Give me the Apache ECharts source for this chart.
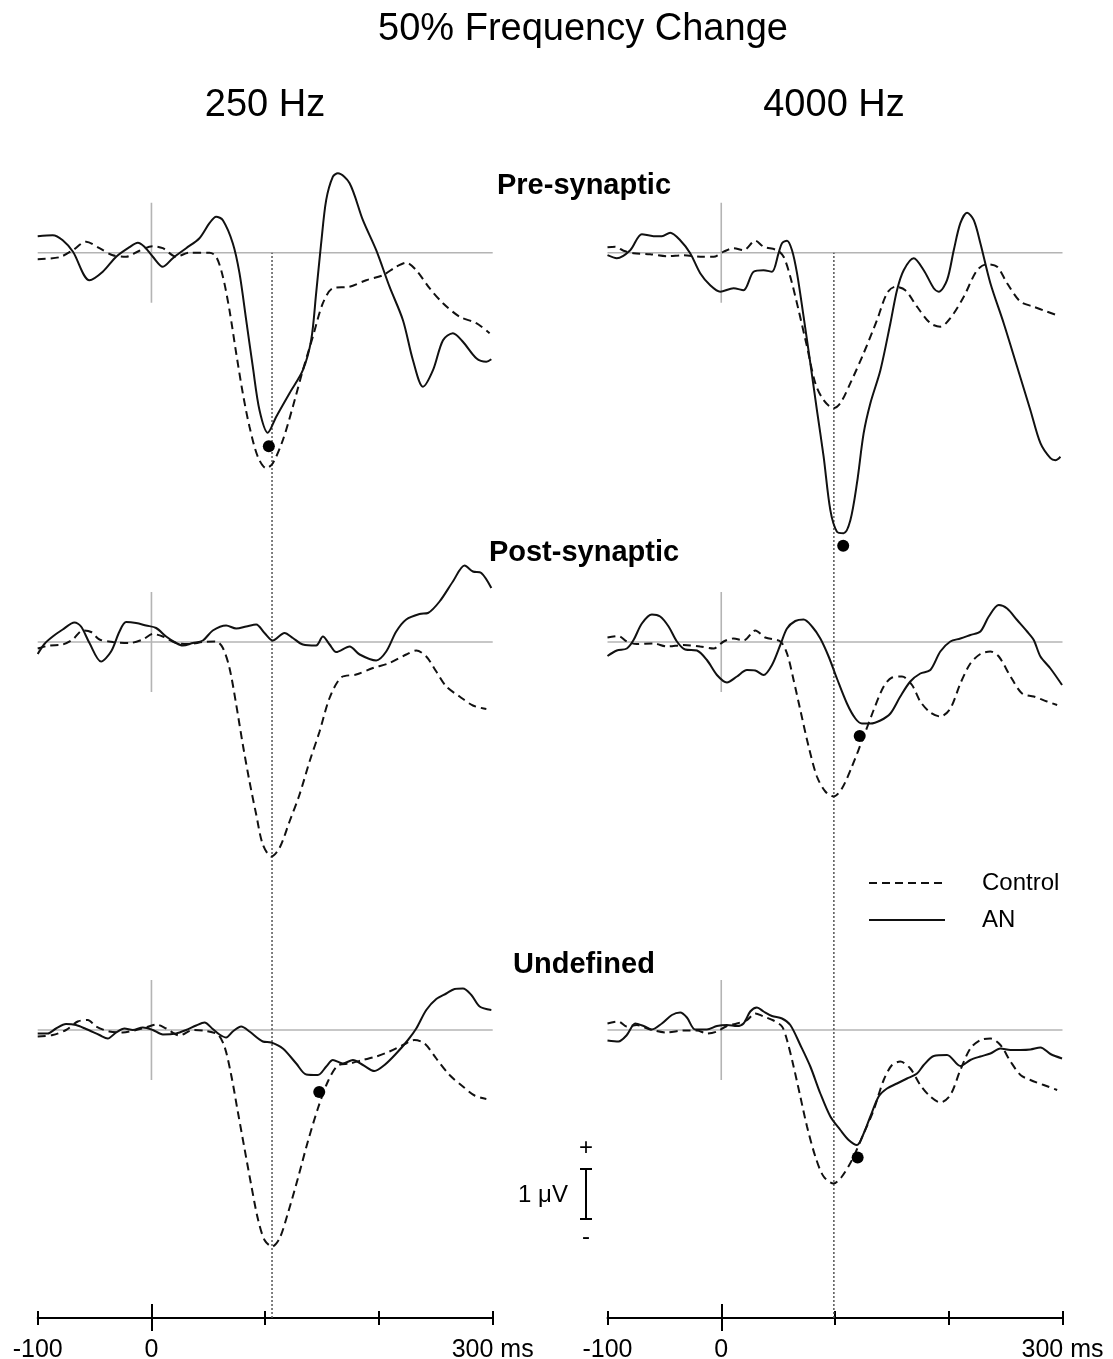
<!DOCTYPE html>
<html><head><meta charset="utf-8">
<script src="https://cdn.jsdelivr.net/npm/echarts@6/dist/echarts.min.js"></script>
<style>html,body{margin:0;padding:0;background:#fff}#c{width:1113px;height:1359px}</style>
</head><body><div id="c"></div>
<script>
// ---------- DATA (time in ms, amplitude in µV) ----------
const timeTicks = [-100, 0, 100, 200, 300];
const tickLabels = {'-100': '-100', '0': '0', '300': '300 ms'};
const columnTitles = ['250 Hz', '4000 Hz'];
const rowTitles = ['Pre-synaptic', 'Post-synaptic', 'Undefined'];
const mainTitle = '50% Frequency Change';
const latency250 = 106;
const latency4000 = 99;
const scaleBarValue = 1;

const pre250_AN = [[-100,0.33],[-86.8,0.35],[-78,0.25],[-69,0.02],[-54.5,-0.55],[-42.8,-0.38],[-31,-0.08],[-19.4,0.11],[-12,0.2],[-6.2,0.12],[1.2,-0.08],[10,-0.28],[18.8,-0.11],[30.5,0.09],[42.2,0.29],[51,0.59],[56.9,0.72],[62.8,0.65],[71.5,0.19],[77.4,-0.41],[83.3,-1.35],[89.1,-2.28],[95,-3.15],[102.3,-3.6],[109.7,-3.28],[121.4,-2.81],[133.1,-2.35],[140.4,-1.75],[144.8,-0.81],[149.2,0.19],[153.6,1.05],[159.5,1.52],[163.9,1.59],[174.2,1.39],[185.9,0.65],[197.6,0.05],[209.3,-0.68],[221.1,-1.35],[229.9,-2.15],[238.7,-2.68],[247.5,-2.35],[256.3,-1.75],[265,-1.61],[273.8,-1.78],[285.6,-2.11],[294.4,-2.18],[298.8,-2.13]];
const pre250_control = [[-100,-0.13],[-80.9,-0.09],[-69.2,0.05],[-57.5,0.22],[-45.7,0.09],[-34,-0.05],[-22.3,-0.08],[-10.6,0.04],[1.2,0.13],[10,0.09],[21.7,-0.08],[33.4,0],[51,0],[56.9,-0.08],[62.8,-0.48],[68.6,-1.15],[74.5,-2.01],[80.3,-2.81],[86.2,-3.48],[93.5,-4.08],[100.9,-4.31],[106.7,-4.21],[115.5,-3.75],[124.3,-3.08],[133.1,-2.35],[141.9,-1.68],[150.7,-1.01],[159.5,-0.71],[174.2,-0.68],[188.8,-0.55],[203.5,-0.45],[215.2,-0.28],[224,-0.2],[232.8,-0.35],[244.5,-0.71],[256.3,-1.01],[270.9,-1.28],[285.6,-1.41],[297.3,-1.61]];
const pre250_peak = [[103.2,-3.87]];

const pre4000_AN = [[-100,-0.05],[-91.8,-0.11],[-80,0.05],[-69.8,0.37],[-59.5,0.33],[-52.2,0.33],[-44.9,0.4],[-36.1,0.25],[-27.3,-0.01],[-18.5,-0.41],[-9.7,-0.65],[-0.9,-0.78],[10.8,-0.71],[19.6,-0.75],[28.4,-0.38],[37.2,-0.35],[44.6,-0.38],[50.4,-0.01],[53.4,0.19],[57.8,0.24],[62.2,0.05],[66.6,-0.41],[72.4,-1.28],[78.3,-2.21],[84.1,-3.15],[90,-4.08],[95.9,-5.15],[101.7,-5.58],[107.6,-5.61],[113.5,-5.35],[119.3,-4.61],[125.2,-3.61],[131.1,-3.01],[139.9,-2.35],[148.7,-1.41],[154.5,-0.75],[160.4,-0.35],[169.2,-0.11],[178,-0.35],[186.8,-0.71],[191.2,-0.78],[198.5,-0.55],[204.4,0.05],[210.2,0.59],[216.1,0.8],[222,0.65],[227.8,0.19],[236.6,-0.61],[248.3,-1.41],[260.1,-2.28],[271.8,-3.15],[280.6,-3.81],[289.4,-4.11],[293.8,-4.15],[298.2,-4.08]];
const pre4000_control = [[-100,0.11],[-93.2,0.12],[-85.9,0.04],[-77.1,-0.01],[-62.5,-0.03],[-47.8,-0.07],[-33.1,-0.05],[-18.5,-0.08],[-6.7,-0.08],[2.1,0.02],[10.8,0.09],[19.6,0.05],[29.9,0.24],[37.2,0.12],[49,0.05],[54.8,-0.08],[60.7,-0.48],[68,-1.15],[75.4,-1.88],[82.7,-2.61],[90,-2.95],[98.8,-3.11],[104.7,-3.01],[113.5,-2.61],[125.2,-2.01],[136.9,-1.35],[145.7,-0.81],[153,-0.68],[161.8,-0.75],[172.1,-1.08],[183.8,-1.41],[192.6,-1.48],[201.4,-1.31],[213.2,-0.88],[224.9,-0.35],[233.7,-0.23],[242.5,-0.28],[251.3,-0.61],[263,-0.98],[274.7,-1.08],[286.5,-1.18],[295.3,-1.25]];
const pre4000_peak = [[107.2,-5.86]];

const post250_AN = [[-100,-0.24],[-94.1,-0.04],[-86.8,0.11],[-78,0.25],[-67.7,0.39],[-61.9,0.31],[-54.5,-0.02],[-44.3,-0.39],[-35.5,-0.19],[-28.1,0.21],[-22.3,0.4],[-13.5,0.38],[-4.7,0.33],[4.1,0.28],[12.9,0.11],[21.7,-0.02],[27.6,-0.07],[36.4,-0.02],[45.2,0.03],[53.9,0.23],[65.7,0.33],[74.5,0.27],[83.3,0.31],[92.1,0.35],[99.4,0.18],[106.7,0.03],[117,0.18],[124.3,0.08],[133.1,-0.05],[144.8,-0.07],[150.7,0.11],[156.6,-0.05],[162.4,-0.2],[174.2,-0.09],[183,-0.25],[197.6,-0.37],[206.4,-0.19],[215.2,0.21],[224,0.45],[235.7,0.56],[243.1,0.58],[253.3,0.81],[265,1.21],[275.3,1.53],[282.6,1.41],[290,1.38],[298.8,1.08]];
const post250_control = [[-100,-0.13],[-89.7,-0.07],[-78,-0.05],[-69.2,0.05],[-60.4,0.23],[-53.1,0.2],[-45.7,0.05],[-34,0],[-19.4,-0.02],[-7.6,0.05],[1.2,0.16],[10,0.11],[21.7,-0.02],[33.4,-0.04],[45.2,0],[56.9,0.01],[62.8,-0.12],[68.6,-0.52],[74.5,-1.25],[80.3,-2.05],[86.2,-2.79],[92.1,-3.45],[97.9,-4.05],[105.3,-4.29],[112.6,-4.12],[121.4,-3.59],[130.2,-3.05],[139,-2.39],[147.8,-1.79],[156.6,-1.12],[166.8,-0.71],[180,-0.65],[194.7,-0.52],[209.3,-0.42],[224,-0.25],[232.8,-0.17],[241.6,-0.29],[250.4,-0.59],[259.2,-0.89],[270.9,-1.09],[282.6,-1.27],[294.4,-1.34]];
const post250_peak = [];

const post4000_AN = [[-100,-0.28],[-91.8,-0.17],[-83,-0.13],[-77.1,0.04],[-69.8,0.37],[-61,0.55],[-53.7,0.51],[-46.3,0.31],[-39,0.01],[-31.7,-0.15],[-21.4,-0.17],[-12.6,-0.36],[-3.8,-0.66],[5,-0.81],[13.8,-0.69],[22.6,-0.56],[29.9,-0.57],[37.2,-0.66],[44.6,-0.46],[51.9,-0.06],[57.8,0.27],[65.1,0.42],[72.4,0.45],[79.8,0.31],[87.1,0.07],[94.4,-0.29],[101.7,-0.73],[110.5,-1.23],[117.9,-1.53],[123.7,-1.63],[131.1,-1.63],[139.9,-1.57],[148.7,-1.43],[157.4,-1.09],[166.2,-0.79],[175,-0.63],[183.8,-0.56],[192.6,-0.19],[201.4,0.01],[210.2,0.07],[219,0.14],[227.8,0.21],[235.2,0.51],[244,0.74],[251.3,0.67],[260.1,0.44],[268.9,0.21],[274.7,0.04],[280.6,-0.29],[289.4,-0.53],[299.6,-0.86]];
const post4000_control = [[-100,0.09],[-90.3,0.12],[-83,0.01],[-74.2,-0.04],[-59.5,-0.03],[-47.8,-0.09],[-33.1,-0.06],[-18.5,-0.09],[-6.7,-0.13],[2.1,0.01],[10.8,0.07],[19.6,0.03],[29.9,0.23],[38.7,0.09],[51.9,0.01],[57.8,-0.23],[63.6,-0.76],[69.5,-1.36],[76.8,-2.09],[84.1,-2.69],[91.5,-2.99],[98.8,-3.09],[106.1,-2.93],[114.9,-2.49],[125.2,-1.89],[134,-1.36],[142.8,-0.89],[150.1,-0.71],[158.9,-0.69],[167.7,-0.86],[175,-1.19],[183.8,-1.41],[192.6,-1.49],[201.4,-1.33],[210.2,-0.83],[219,-0.43],[227.8,-0.24],[236.6,-0.19],[244,-0.29],[254.3,-0.69],[264.5,-1.03],[274.7,-1.09],[286.5,-1.19],[295.3,-1.26]];
const post4000_peak = [[121.7,-1.88]];

const und250_AN = [[-100,-0.07],[-91.2,-0.07],[-83.9,0.03],[-75.1,0.12],[-66.3,0.1],[-57.5,0.02],[-45.7,-0.1],[-38.4,-0.17],[-31.1,-0.05],[-23.7,0.03],[-16.4,0],[-7.6,0.05],[1.2,0],[10,-0.09],[21.7,-0.07],[30.5,0],[39.3,0.09],[46.6,0.15],[53.9,0.02],[59.8,-0.09],[65.7,-0.15],[71.5,-0.03],[78.9,0.07],[86.2,-0.03],[97.9,-0.23],[105.3,-0.25],[115.5,-0.37],[127.3,-0.67],[136.1,-0.89],[146.3,-0.9],[153.7,-0.73],[159.5,-0.6],[168.3,-0.67],[177.1,-0.6],[185.9,-0.7],[196.1,-0.82],[204.9,-0.7],[215.2,-0.47],[225.5,-0.2],[232.8,0.03],[241.6,0.4],[250.4,0.62],[259.2,0.73],[266.5,0.82],[273.8,0.83],[281.2,0.7],[288.5,0.47],[298.8,0.4]];
const und250_control = [[-100,-0.13],[-86.8,-0.1],[-75.1,0],[-64.8,0.17],[-56,0.2],[-48.7,0.07],[-37,-0.03],[-25.2,-0.05],[-13.5,0],[-4.7,0.05],[4.1,0.11],[12.9,0.03],[24.6,-0.11],[36.4,0],[48.1,-0.02],[58.3,-0.09],[64.2,-0.33],[70.1,-0.9],[75.9,-1.63],[81.8,-2.37],[87.7,-3.1],[93.5,-3.77],[99.4,-4.2],[106.1,-4.33],[112.6,-4.17],[119.9,-3.67],[128.7,-2.97],[137.5,-2.23],[146.3,-1.57],[155.1,-1.03],[163.9,-0.71],[174.2,-0.67],[185.9,-0.6],[197.6,-0.53],[209.3,-0.43],[221.1,-0.3],[231.3,-0.2],[240.1,-0.27],[250.4,-0.57],[262.1,-0.9],[273.8,-1.13],[284.1,-1.31],[294.4,-1.38]];
const und250_peak = [[147.5,-1.24]];

const und4000_AN = [[-100,-0.21],[-90.3,-0.23],[-83,-0.1],[-75.6,0.13],[-68.3,0.08],[-61,0.01],[-52.2,0.13],[-43.4,0.3],[-36.1,0.35],[-30.2,0.25],[-22.9,0.01],[-12.6,0.01],[-3.8,0.08],[5,0.1],[13.8,0.08],[19.6,0.13],[25.5,0.37],[31.4,0.45],[37.2,0.37],[44.6,0.28],[53.4,0.23],[60.7,0.1],[69.5,-0.3],[78.3,-0.73],[87.1,-1.27],[95.9,-1.73],[104.7,-2],[112,-2.2],[119.3,-2.3],[125.2,-2.07],[131.1,-1.73],[138.4,-1.33],[145.7,-1.17],[154.5,-1.07],[163.3,-0.97],[172.1,-0.87],[178,-0.7],[186.8,-0.52],[198.5,-0.5],[210.2,-0.72],[219,-0.6],[227.8,-0.53],[236.6,-0.47],[245.4,-0.37],[254.3,-0.4],[263.1,-0.4],[271.8,-0.39],[280.6,-0.35],[289.4,-0.48],[299.6,-0.57]];
const und4000_control = [[-100,0.13],[-90.3,0.17],[-83,0.07],[-74.2,0.1],[-62.5,0.01],[-47.8,-0.05],[-33.1,-0.01],[-21.4,-0.01],[-12.6,-0.07],[-3.8,-0.03],[5,0.08],[13.8,0.13],[22.6,0.2],[29.9,0.33],[37.2,0.27],[46,0.19],[53.4,0.07],[57.8,-0.2],[63.6,-0.73],[69.5,-1.33],[75.4,-1.93],[82.7,-2.53],[90,-2.93],[98.8,-3.07],[106.1,-2.93],[114.9,-2.6],[125.2,-2.07],[134,-1.6],[142.8,-1],[150.1,-0.7],[157.4,-0.63],[166.2,-0.77],[175,-1.1],[183.8,-1.33],[192.6,-1.45],[201.4,-1.3],[210.2,-0.8],[219,-0.37],[227.8,-0.2],[236.6,-0.17],[245.4,-0.3],[254.3,-0.63],[263.1,-0.9],[271.8,-1],[283.5,-1.1],[295.3,-1.2]];
const und4000_peak = [[119.9,-2.55]];

// reference segments (baseline and stimulus onset marker, in data units)
const baselineSeg = [[-100, 0], [300, 0]];
const onsetSeg = [[0, -1], [0, 1]];

// ---------- LAYOUT ----------
const FONT = "'Liberation Sans', Arial, Helvetica, sans-serif";
const colLeft = [37.7, 607.5];
const colWidth = 455;
const rowBase = [252.7, 642, 1030];   // pixel y of 0 µV per row
const pxPerUV = 50;
const yMax = 2, yMin = -6;
const axisY = 1318;

const panels = [
  {row:0, col:0, ctrl:pre250_control,  an:pre250_AN,  peak:pre250_peak},
  {row:0, col:1, ctrl:pre4000_control, an:pre4000_AN, peak:pre4000_peak},
  {row:1, col:0, ctrl:post250_control, an:post250_AN, peak:post250_peak},
  {row:1, col:1, ctrl:post4000_control,an:post4000_AN,peak:post4000_peak},
  {row:2, col:0, ctrl:und250_control,  an:und250_AN,  peak:und250_peak},
  {row:2, col:1, ctrl:und4000_control, an:und4000_AN, peak:und4000_peak}
];

const grid = [], xAxis = [], yAxis = [], series = [];
const GRAY = '#b4b4b4';
const LINE = '#111';

panels.forEach((p, i) => {
  grid.push({left: colLeft[p.col], width: colWidth, top: rowBase[p.row] - yMax * pxPerUV, height: (yMax - yMin) * pxPerUV, outerBoundsMode: 'none'});
  xAxis.push({gridIndex: i, type: 'value', min: -100, max: 300, show: false});
  yAxis.push({gridIndex: i, type: 'value', min: yMin, max: yMax, show: false});
  const base = {xAxisIndex: i, yAxisIndex: i, type: 'line', symbol: 'none', silent: true, animation: false};
  series.push(Object.assign({}, base, {data: baselineSeg, lineStyle: {color: GRAY, width: 1.6}, z: 1}));
  series.push(Object.assign({}, base, {data: onsetSeg, lineStyle: {color: GRAY, width: 1.6}, z: 1}));
  series.push(Object.assign({}, base, {name: 'Control', data: p.ctrl, smooth: 0.3, itemStyle: {color: LINE}, lineStyle: {color: LINE, width: 2, type: [8, 5]}, z: 3}));
  series.push(Object.assign({}, base, {name: 'AN', data: p.an, smooth: 0.3, itemStyle: {color: LINE}, lineStyle: {color: LINE, width: 2}, z: 4}));
  if (p.peak.length) {
    series.push({type: 'scatter', xAxisIndex: i, yAxisIndex: i, data: p.peak, symbolSize: 12, itemStyle: {color: '#000', opacity: 1}, silent: true, z: 5, animation: false});
  }
});

// bottom time axes + latency dotted lines
const latencies = [latency250, latency4000];
[0, 1].forEach(c => {
  const g = grid.length;
  grid.push({left: colLeft[c], width: colWidth, top: rowBase[0], height: axisY - rowBase[0], outerBoundsMode: 'none', containLabel: false});
  yAxis.push({gridIndex: g, type: 'value', min: 0, max: 1, show: false});
  const xi = xAxis.length;
  const common = {gridIndex: g, type: 'value', min: -100, max: 300, interval: 100, position: 'bottom', splitLine: {show: false}};
  xAxis.push(Object.assign({}, common, {
    axisLine: {show: true, lineStyle: {color: '#000', width: 2}},
    axisTick: {show: true, inside: true, length: 7, lineStyle: {color: '#000', width: 2}},
    axisLabel: {show: true, margin: 20, color: '#000', fontSize: 25, fontFamily: FONT,
      showMinLabel: true, showMaxLabel: true, hideOverlap: false,
      formatter: v => tickLabels[String(v)] || ''}
  }));
  xAxis.push(Object.assign({}, common, {
    axisLine: {show: false}, axisLabel: {show: false},
    axisTick: {show: true, inside: false, length: 7, lineStyle: {color: '#000', width: 2}}
  }));
  xAxis.push(Object.assign({}, common, {
    axisLine: {show: false}, axisLabel: {show: false},
    axisTick: {show: true, inside: true, length: 14, customValues: [0], lineStyle: {color: '#000', width: 2}}
  }));
  xAxis.push(Object.assign({}, common, {
    axisLine: {show: false}, axisLabel: {show: false},
    axisTick: {show: true, inside: false, length: 13, customValues: [0], lineStyle: {color: '#000', width: 2}}
  }));
  series.push({type: 'line', xAxisIndex: xi, yAxisIndex: yAxis.length - 1, symbol: 'none', silent: true, animation: false,
    data: [[latencies[c], 0], [latencies[c], 1]], lineStyle: {color: '#555', width: 1.5, type: [2, 2]}, z: 2});
});

// scale bar (1 µV)
{
  const g = grid.length;
  grid.push({left: 580, width: 12, top: 1169, height: scaleBarValue * pxPerUV, outerBoundsMode: 'none'});
  xAxis.push({gridIndex: g, type: 'value', min: 0, max: 1, show: false});
  yAxis.push({gridIndex: g, type: 'value', min: 0, max: scaleBarValue, show: false});
  series.push({type: 'line', xAxisIndex: xAxis.length - 1, yAxisIndex: yAxis.length - 1, symbol: 'none', silent: true, animation: false,
    data: [[0.5, 0], [0.5, scaleBarValue]], lineStyle: {color: '#000', width: 2},
    markLine: {silent: true, symbol: 'none', label: {show: false}, animation: false,
      lineStyle: {color: '#000', width: 2, type: 'solid'},
      data: [{yAxis: 0}, {yAxis: scaleBarValue}]}});
}

const txt = (x, y, text, size, weight) => ({type: 'text', x: x, y: y, silent: true,
  style: {text: text, fill: '#000', font: (weight || 'normal') + ' ' + size + 'px ' + FONT, textAlign: 'center', textVerticalAlign: 'middle'}});

const graphic = [
  txt(583, 30, mainTitle, 38),
  txt(265, 106, columnTitles[0], 38),
  txt(834, 106, columnTitles[1], 38),
  txt(584, 186, rowTitles[0], 29, 'bold'),
  txt(584, 553, rowTitles[1], 29, 'bold'),
  txt(584, 965, rowTitles[2], 29, 'bold'),
  txt(586, 1148, '+', 24),
  txt(586, 1237, '-', 24),
  txt(543, 1195, '1 μV', 24)
];

const chart = echarts.init(document.getElementById('c'), null, {renderer: 'canvas'});
chart.setOption({
  animation: false,
  backgroundColor: '#fff',
  grid: grid, xAxis: xAxis, yAxis: yAxis, series: series, graphic: graphic,
  legend: {data: ['Control', 'AN'], orient: 'vertical', left: 868, top: 871, padding: 0, itemWidth: 76, itemHeight: 14, itemGap: 13,
    selectedMode: false,
    itemStyle: {color: 'rgba(0,0,0,0)', borderWidth: 0, opacity: 0},
    textStyle: {fontSize: 24, fontFamily: FONT, color: '#000', padding: [0, 0, 0, 32]}}
});
</script></body></html>
